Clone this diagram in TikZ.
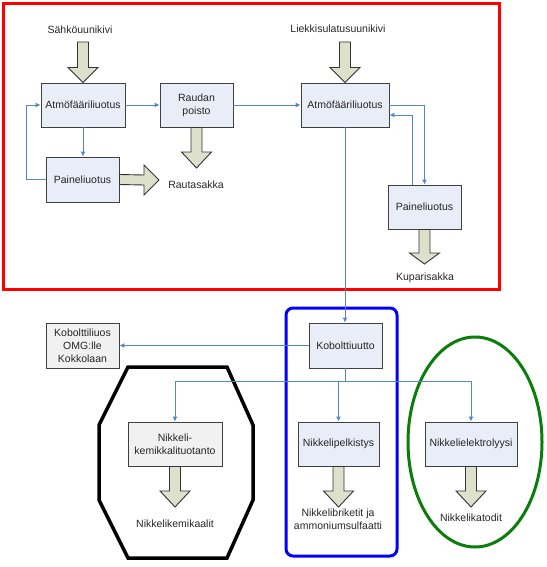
\documentclass[tikz,border=0pt]{standalone}
\usepackage{fontspec}
\setmainfont{Liberation Sans}
\usepackage{tikz}
\usetikzlibrary{calc,arrows.meta}

\definecolor{boxblue}{RGB}{232,237,248}
\definecolor{boxgrey}{RGB}{241,241,241}
\definecolor{fatfill}{RGB}{221,224,202}
\definecolor{flowblue}{RGB}{84,134,204}
\definecolor{framegreen}{RGB}{10,125,10}

% fat arrows: #1 start, #2 tip, #3 head length
\newcommand{\fatdown}[3]{%
  \draw[fat] ($(#1)+(-5.5,0)$) -- ($(#2)+(-5.5,-#3)$) -- ($(#2)+(-15,-#3)$) -- (#2)
    -- ($(#2)+(15,-#3)$) -- ($(#2)+(5.5,-#3)$) -- ($(#1)+(5.5,0)$) -- cycle;}
\newcommand{\fatright}[3]{%
  \draw[fat] ($(#1)+(0,-5)$) -- ($(#2)+(-#3,-5)$) -- ($(#2)+(-#3,-15)$) -- (#2)
    -- ($(#2)+(-#3,15)$) -- ($(#2)+(-#3,5)$) -- ($(#1)+(0,5)$) -- cycle;}

\begin{document}
\begin{tikzpicture}[x=1pt,y=-1pt,
  every node/.style={font=\fontsize{10.5}{13}\selectfont,text=black!85},
  procbox/.style={rectangle,draw=black!75,fill=boxblue,line width=0.9pt,minimum height=44pt,align=center,inner sep=1pt},
  greybox/.style={procbox,fill=boxgrey},
  fat/.style={draw=black!80,fill=fatfill,line width=0.9pt,line join=miter},
  flow/.style={draw=flowblue,line width=0.9pt,-{Latex[length=5pt,width=5pt]}},
  label/.style={align=center,inner sep=1pt}
]
\useasboundingbox (0,0) rectangle (546,567);

% frames
\draw[red,line width=3pt] (3.5,3.5) rectangle (499.5,289.5);
\draw[blue,line width=3pt,rounded corners=7pt] (286,308) rectangle (397,556);
\draw[black,line width=3.5pt] (128,367) -- (227,367) -- (253,425) -- (253,500) -- (227,558)
  -- (128,558) -- (99,500) -- (99,425) -- cycle;
\draw[framegreen,line width=3pt] (475,442) ellipse [x radius=67,y radius=105];

% texts
\node[label] (sahko) at (80,30) {Sähköuunikivi};
\node[label] (liekki) at (338,29) {Liekkisulatusuunikivi};
\node[label] (rauta) at (196,185) {Rautasakka};
\node[label] (kupari) at (425,278) {Kuparisakka};
\node[label] (nkemtxt) at (175,524) {Nikkelikemikaalit};
\node[label] (npeltxt) at (338,519) {Nikkelibriketit ja\\ammoniumsulfaatti};
\node[label] (nelektxt) at (471,518) {Nikkelikatodit};

% process boxes
\node[procbox,minimum width=84pt] (atmA) at (83,105) {Atmöfääriliuotus};
\node[procbox,minimum width=73pt] (raud) at (196.5,105) {Raudan\\poisto};
\node[procbox,minimum width=73pt,minimum height=45pt] (paineA) at (82.5,179.5) {Paineliuotus};
\node[procbox,minimum width=88pt] (atmB) at (345,105) {Atmöfääriliuotus};
\node[procbox,minimum width=73pt] (paineB) at (424.5,207) {Paineliuotus};
\node[procbox,minimum width=73pt,minimum height=45pt] (kob) at (345.5,345.5) {Kobolttiuutto};
\node[greybox,minimum width=73pt,minimum height=45pt] (kobl) at (82.5,345.5) {Kobolttiliuos\\OMG:lle\\Kokkolaan};
\node[greybox,minimum width=94pt] (nkem) at (175,444) {Nikkeli-\\kemikkalituotanto};
\node[procbox,minimum width=81pt] (npel) at (338.5,444) {Nikkelipelkistys};
\node[procbox,minimum width=92pt] (nelek) at (471,444) {Nikkelielektrolyysi};

% fat arrows
\coordinate (sahkoIn) at (83,42);
\coordinate (liekkiIn) at (345,42);
\coordinate (rautaTip) at (196.5,168);
\coordinate (rautaTipB) at (159,180);
\coordinate (kupariTip) at (424.5,264);
\coordinate (nkemTip) at (175,507);
\coordinate (npelTip) at (338.5,507);
\coordinate (nelekTip) at (471,507);
\fatdown{sahkoIn}{atmA.north}{15}
\fatdown{liekkiIn}{atmB.north}{15}
\fatdown{raud.south}{rautaTip}{16}
\fatright{paineA.east}{rautaTipB}{15}
\fatdown{paineB.south}{kupariTip}{11}
\fatdown{nkem.south}{nkemTip}{16}
\fatdown{npel.south}{npelTip}{16}
\fatdown{nelek.south}{nelekTip}{16}

% flows
\draw[flow] (atmA.east) -- (raud.west);
\draw[flow] (raud.east) -- (atmB.west);
\draw[flow] (atmA.south) -- (atmA.south |- paineA.north);
\draw[flow] (paineA.west) -- ++(-19,0) |- (atmA.west);
\draw[flow] (atmB.east) -| (paineB.north);
\draw[flow] ([xshift=-12pt]paineB.north) |- ([yshift=-10pt]atmB.east);
\draw[flow] (atmB.south) -- (atmB.south |- kob.north);
\draw[flow] (kob.west) -- (kobl.east);
\coordinate (split) at (345,381);
\draw[draw=flowblue,line width=0.9pt] (kob.south -| split) -- (split);
\draw[flow] (split) -| (nkem.north);
\draw[flow] (split) -| (nelek.north);
\draw[flow] (npel.north |- split) -- (npel.north);

\end{tikzpicture}
\end{document}
